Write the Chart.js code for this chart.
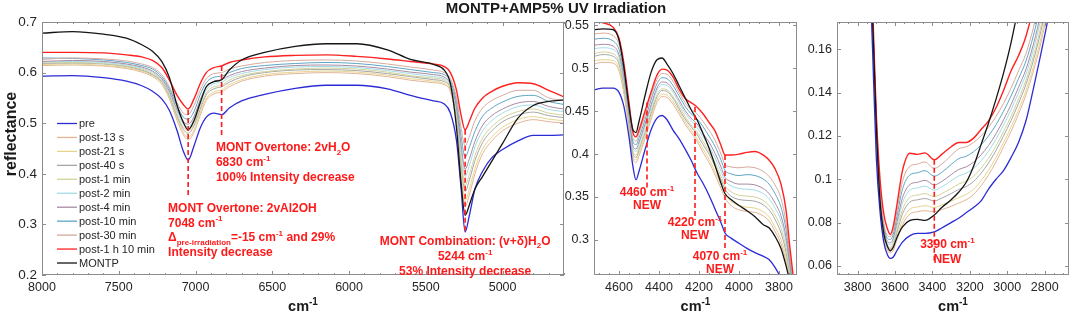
<!DOCTYPE html>
<html lang="en">
<head>
<meta charset="UTF-8">
<title>MONTP+AMP5% UV Irradiation</title>
<script src="https://cdn.jsdelivr.net/npm/chart.js@4.4.1/dist/chart.umd.min.js"></script>
<style>
  html, body { margin: 0; padding: 0; background: #fff; }
  .stage { position: relative; width: 1072px; height: 316px; overflow: hidden; }
  .stage canvas { position: absolute; left: 0; top: 0; }
</style>
</head>
<body>
<div class="stage">
  <canvas id="panelA" width="1072" height="316"></canvas>
  <canvas id="panelB" width="1072" height="316"></canvas>
  <canvas id="panelC" width="1072" height="316"></canvas>
</div>
<script>
// ---- series names (legend order) ----
const seriesNames = ['pre', 'post-13 s', 'post-21 s', 'post-40 s', 'post-1 min', 'post-2 min',
  'post-4 min', 'post-10 min', 'post-30 min', 'post-1 h 10 min', 'MONTP'];

// ---- tick labels ----
const xTicksA = [8000, 7500, 7000, 6500, 6000, 5500, 5000];
const yTicksA = [0.2, 0.3, 0.4, 0.5, 0.6, 0.7];
const xTicksB = [4600, 4400, 4200, 4000, 3800];
const yTicksB = [0.3, 0.35, 0.4, 0.45, 0.5, 0.55];
const xTicksC = [3800, 3600, 3400, 3200, 3000, 2800];
const yTicksC = [0.06, 0.08, 0.1, 0.12, 0.14, 0.16];

// ---- panel A: 8000-4600 cm-1 ----
const wnA = [8000, 7800, 7600, 7450, 7350, 7280, 7220, 7170, 7120, 7080, 7048, 7010, 6970, 6930, 6880, 6830, 6780, 6700, 6550, 6350,
  6150, 5950, 5750, 5600, 5450, 5380, 5340, 5300, 5270, 5244, 5215, 5180, 5130, 5070, 5000, 4900, 4800, 4700, 4600];
const preA = [.593, .594, .590, .583, .574, .563, .548, .525, .485, .445, .427, .455, .490, .512, .520, .517, .530, .544, .557, .569,
  .575, .575, .568, .555, .544, .538, .520, .465, .370, .285, .320, .370, .405, .432, .448, .465, .476, .476, .477];
const s13A = [.614, .615, .613, .608, .601, .592, .577, .548, .505, .478, .467, .482, .515, .545, .558, .562, .572, .583, .593, .598,
  .600, .598, .592, .585, .580, .576, .562, .500, .400, .335, .360, .400, .440, .465, .485, .500, .507, .503, .500];
const s21A = [.616, .617, .614, .610, .603, .594, .579, .550, .509, .482, .472, .487, .520, .549, .562, .566, .576, .586, .596, .601,
  .603, .601, .595, .588, .583, .578, .565, .505, .409, .347, .372, .410, .449, .473, .492, .507, .513, .508, .505];
const s40A = [.618, .619, .617, .612, .605, .596, .582, .554, .514, .488, .480, .495, .527, .556, .568, .572, .581, .591, .600, .605,
  .606, .604, .598, .592, .586, .582, .569, .512, .422, .365, .389, .426, .462, .485, .503, .516, .522, .515, .511];
const m1A = [.619, .620, .618, .613, .607, .598, .584, .556, .517, .493, .485, .500, .532, .560, .572, .575, .585, .594, .602, .607,
  .609, .607, .601, .594, .589, .585, .571, .518, .432, .377, .400, .436, .471, .493, .510, .523, .528, .520, .516];
const m2A = [.621, .622, .620, .615, .609, .601, .586, .560, .522, .499, .492, .508, .540, .566, .578, .581, .590, .598, .606, .611,
  .612, .610, .604, .598, .592, .588, .575, .525, .445, .395, .418, .453, .485, .505, .520, .533, .536, .527, .523];
const m4A = [.622, .624, .622, .617, .611, .603, .588, .563, .527, .504, .498, .513, .546, .571, .583, .586, .594, .602, .609, .614,
  .615, .613, .607, .601, .596, .591, .578, .531, .456, .409, .431, .464, .496, .515, .528, .540, .543, .533, .528];
const m10A = [.629, .628, .625, .620, .614, .607, .592, .568, .534, .512, .508, .523, .556, .580, .591, .593, .600, .608, .614, .618,
  .620, .618, .612, .606, .600, .596, .583, .541, .474, .433, .454, .484, .514, .530, .542, .553, .555, .543, .537];
const m30A = [.626, .629, .627, .623, .617, .610, .596, .572, .540, .520, .517, .535, .565, .588, .598, .600, .607, .613, .620, .624,
  .625, .623, .617, .611, .605, .600, .588, .550, .490, .455, .475, .505, .530, .545, .555, .565, .565, .550, .545];
const h1A = [.640, .640, .639, .635, .631, .624, .610, .585, .555, .537, .528, .548, .578, .600, .610, .613, .620, .625, .631, .634,
  .635, .632, .627, .622, .617, .612, .600, .565, .515, .487, .505, .530, .550, .563, .573, .580, .578, .565, .552];
const montpA = [.678, .681, .676, .668, .655, .642, .622, .590, .535, .502, .487, .505, .540, .572, .582, .586, .605, .625, .640, .652,
  .657, .657, .645, .626, .616, .605, .578, .490, .380, .318, .340, .370, .395, .425, .460, .510, .535, .543, .546];

// ---- panel B: 4725-3710 cm-1 ----
const wnB = [4725, 4680, 4630, 4600, 4575, 4550, 4530, 4515, 4500, 4470, 4440, 4410, 4385, 4360, 4330, 4300, 4270, 4240, 4210, 4180,
  4150, 4120, 4090, 4070, 4040, 4000, 3960, 3920, 3880, 3850, 3820, 3790, 3765, 3745, 3725, 3710];
const preB = [.475, .477, .477, .472, .455, .420, .385, .370, .380, .405, .428, .442, .445, .440, .428, .418, .406, .393, .378, .366,
  .352, .336, .320, .308, .302, .296, .290, .285, .281, .277, .268, .255, .240, .225, .210, .200];
const s13B = [.505, .507, .506, .497, .470, .430, .395, .390, .398, .418, .440, .460, .467, .466, .458, .447, .435, .425, .415, .402,
  .390, .376, .360, .349, .340, .335, .333, .332, .328, .322, .310, .295, .275, .250, .220, .200];
const s21B = [.509, .510, .509, .500, .473, .433, .397, .393, .401, .421, .443, .463, .470, .469, .461, .450, .438, .428, .418, .406,
  .394, .380, .364, .353, .345, .340, .338, .337, .333, .327, .315, .300, .280, .253, .223, .202];
const s40B = [.514, .516, .514, .505, .478, .436, .401, .396, .405, .425, .447, .467, .474, .473, .465, .453, .441, .432, .423, .411,
  .400, .386, .370, .359, .351, .347, .346, .345, .341, .335, .324, .308, .286, .258, .226, .205];
const m1B = [.517, .519, .517, .508, .481, .439, .403, .399, .407, .427, .450, .469, .476, .475, .467, .456, .444, .434, .426, .415,
  .403, .390, .374, .363, .356, .352, .351, .350, .346, .340, .329, .314, .291, .261, .229, .207];
const m2B = [.523, .524, .522, .513, .485, .443, .407, .403, .411, .432, .454, .474, .481, .480, .472, .460, .448, .439, .431, .420,
  .409, .396, .380, .369, .363, .360, .359, .358, .354, .348, .337, .322, .298, .265, .233, .210];
const m4B = [.527, .528, .526, .516, .489, .446, .409, .406, .414, .435, .457, .477, .484, .483, .475, .463, .451, .442, .435, .424,
  .414, .401, .385, .373, .368, .365, .365, .364, .360, .354, .343, .328, .303, .269, .236, .212];
const m10B = [.534, .535, .532, .522, .495, .451, .414, .411, .419, .440, .463, .482, .489, .488, .480, .468, .456, .447, .441, .432,
  .421, .409, .393, .381, .377, .375, .376, .375, .371, .365, .354, .338, .312, .275, .241, .216];
const m30B = [.540, .541, .538, .528, .500, .455, .418, .415, .424, .445, .468, .487, .494, .493, .485, .472, .460, .452, .447, .438,
  .428, .416, .400, .388, .385, .384, .385, .384, .380, .374, .364, .348, .320, .280, .245, .220];
const h1B = [.555, .553, .548, .535, .505, .460, .425, .420, .428, .450, .472, .492, .499, .498, .490, .476, .465, .460, .455, .447,
  .437, .427, .410, .399, .399, .400, .402, .403, .399, .393, .383, .365, .335, .290, .250, .220];
const montpB = [.545, .546, .545, .533, .500, .455, .428, .425, .438, .468, .495, .510, .512, .505, .494, .480, .466, .452, .440, .424,
  .407, .387, .366, .354, .347, .340, .334, .327, .318, .314, .304, .290, .270, .250, .225, .200];

// ---- panel C: 3910-2670 cm-1 ----
const wnC = [3740, 3720, 3700, 3680, 3660, 3640, 3625, 3610, 3590, 3560, 3520, 3480, 3440, 3390, 3350, 3300, 3260, 3220, 3180, 3140,
  3100, 3060, 3020, 2980, 2940, 2900, 2860, 2820, 2780, 2740];
const preC = [.21, .16, .11, .085, .071, .065, .0635, .064, .067, .071, .074, .075, .075, .0757, .0775, .08, .082, .0845, .087, .09,
  .0955, .1, .104, .11, .117, .127, .142, .158, .175, .195];
const s13C = [.21, .17, .12, .088, .073, .067, .066, .067, .072, .079, .084, .085, .0855, .085, .086, .0875, .089, .0905, .093, .097,
  .102, .108, .115, .122, .13, .139, .15, .163, .18, .2];
const s21C = [.21, .1705, .121, .0887, .0737, .0677, .0668, .0679, .0733, .081, .0862, .0872, .0878, .087, .0881, .0899, .0915, .093, .0954, .0993,
  .1042, .1101, .117, .124, .132, .1409, .152, .1652, .182, .202];
const s40C = [.21, .171, .1225, .0898, .0748, .0688, .0679, .0693, .0753, .084, .0895, .0905, .0911, .09, .0913, .0934, .0953, .0966, .099, .1028,
  .1075, .1133, .12, .127, .135, .1438, .155, .1685, .185, .205];
const m1C = [.21, .172, .1235, .0905, .0755, .0695, .0686, .0702, .0766, .086, .0917, .0927, .0934, .092, .0934, .0957, .0978, .0991, .1014, .1051,
  .1097, .1154, .122, .129, .137, .1457, .157, .1707, .187, .207];
const m2C = [.21, .1725, .125, .0915, .0765, .0705, .0698, .0715, .0785, .089, .095, .096, .0968, .095, .0965, .0993, .1015, .1028, .105, .1085,
  .113, .1185, .125, .132, .14, .1485, .16, .174, .19, .21];
const m4C = [.21, .173, .126, .0923, .0773, .0713, .0707, .0726, .0801, .0914, .0976, .0986, .0995, .0974, .099, .1021, .1045, .1057, .1079, .1113,
  .1156, .121, .1274, .1344, .1424, .1508, .1624, .1766, .1924, .2124];
const m10C = [.21, .174, .128, .0937, .0787, .0727, .0722, .0744, .0827, .0954, .102, .103, .104, .1014, .1032, .1068, .1095, .1106, .1127, .1159,
  .12, .1252, .1314, .1384, .1464, .1546, .1664, .181, .1964, .2164];
const m30C = [.21, .175, .13, .095, .08, .074, .0735, .076, .085, .099, .106, .107, .108, .105, .107, .111, .114, .115, .117, .12,
  .124, .129, .135, .142, .15, .158, .17, .185, .2, .22];
const h1C = [.21, .18, .13, .10, .084, .077, .0745, .078, .088, .104, .112, .1115, .1122, .109, .1115, .115, .117, .117, .119, .123,
  .127, .133, .141, .15, .157, .166, .18, .2, .22, .24];
const montpC = [.21, .175, .125, .09, .075, .069, .067, .0685, .073, .078, .081, .0815, .081, .0835, .087, .0905, .094, .0985, .106, .116,
  .126, .137, .149, .163, .18, .2, .22, .24, .26, .28];

// ---- styles ----
const seriesColors = ['#2b2bd6', '#e2b496', '#e6d48e', '#a6a6a6', '#d2d29a', '#a4dce6',
  '#a88aa4', '#5ea6c4', '#d6aa9e', '#ff2020', '#151515'];
const seriesWidths = [1.3, 1, 1, 1, 1, 1, 1, 1, 1, 1.4, 1.3];
const seriesOrder = [2, 10, 9, 8, 7, 6, 5, 4, 3, 1, 0];
const FONT = '"Liberation Sans", Arial, Helvetica, sans-serif';
const RED = '#ff1a1a';
Chart.defaults.font.family = FONT;

function sup(t) { return [t, 'sup']; }
function sub(t) { return [t, 'sub']; }

// annotations, titles and tick details per panel
const deco = {
  panelA: {
    xMinor: 100, xMajor: 500,
    marks: [[6830, 0.613, 0.475], [7048, 0.526, 0.352], [5244, 0.487, 0.285]],
    notes: [
      { x: 6867, y: 0.445, align: 'left', lh: 15, lines: [
        [['MONT Overtone: 2vH'], sub('2'), ['O']],
        [['6830 cm'], sup('-1')],
        [['100% Intensity decrease']]
      ] },
      { x: 7179, y: 0.3245, align: 'left', lh: 14.5, lines: [
        [['MONT Overtone: 2vAl2OH']],
        [['7048 cm'], sup('-1')],
        [['\u0394'], sub('pre-irradiation'), ['=-15 cm'], sup('-1'), [' and 29%']],
        [['Intensity decrease']]
      ] },
      { x: 5244, y: 0.260, align: 'center', lh: 15, lines: [
        [['MONT Combination: (v+\u03b4)H'], sub('2'), ['O']],
        [['5244 cm'], sup('-1')],
        [['53% Intensity decrease']]
      ] }
    ],
    legend: true,
    yTitle: 'reflectance',
    title: 'MONTP+AMP5% UV Irradiation'
  },
  panelB: {
    xMinor: 50, xMajor: 200,
    marks: [[4460, 0.46, 0.358], [4220, 0.455, 0.323], [4070, 0.399, 0.288]],
    notes: [
      { x: 4460, y: 0.3513, align: 'center', lh: 13.5, lines: [[['4460 cm'], sup('-1')], [['NEW']]] },
      { x: 4220, y: 0.3163, align: 'center', lh: 13.5, lines: [[['4220 cm'], sup('-1')], [['NEW']]] },
      { x: 4095, y: 0.277, align: 'center', lh: 13.5, lines: [[['4070 cm'], sup('-1')], [['NEW']]] }
    ]
  },
  panelC: {
    xMinor: 50, xMajor: 200,
    marks: [[3390, 0.109, 0.0615]],
    notes: [
      { x: 3320, y: 0.0683, align: 'center', lh: 15, lines: [[['3390 cm'], sup('-1')], [['NEW']]] }
    ]
  }
};

function drawRich(ctx, parts, x, y, align, size) {
  const small = Math.round(size * 0.7);
  const fontFor = m => 'bold ' + (m ? small : size) + 'px ' + FONT;
  let w = 0;
  parts.forEach(p => { ctx.font = fontFor(p[1]); w += ctx.measureText(p[0]).width; });
  let cx = align === 'center' ? x - w / 2 : x;
  parts.forEach(p => {
    ctx.font = fontFor(p[1]);
    const dy = p[1] === 'sub' ? size * 0.3 : (p[1] === 'sup' ? -size * 0.42 : 0);
    ctx.fillText(p[0], cx, y + dy);
    cx += ctx.measureText(p[0]).width;
  });
}

const framePlugin = {
  id: 'frame',
  afterDatasetsDraw(chart) {
    const d = deco[chart.canvas.id];
    const ctx = chart.ctx, a = chart.chartArea;
    const sx = chart.scales.x, sy = chart.scales.y;
    ctx.save();

    // box and inward ticks
    ctx.strokeStyle = '#8c8c8c';
    ctx.lineWidth = 1;
    ctx.beginPath();
    const start = Math.ceil(sx.min / d.xMinor) * d.xMinor;
    for (let v = start; v <= sx.max; v += d.xMinor) {
      const px = Math.round(sx.getPixelForValue(v)) + 0.5;
      const len = v % d.xMajor === 0 ? 4 : 2;
      ctx.moveTo(px, a.bottom); ctx.lineTo(px, a.bottom - len);
      ctx.moveTo(px, a.top); ctx.lineTo(px, a.top + len);
    }
    sy.ticks.forEach(t => {
      const py = Math.round(sy.getPixelForValue(t.value)) + 0.5;
      ctx.moveTo(a.left, py); ctx.lineTo(a.left + 4, py);
      ctx.moveTo(a.right, py); ctx.lineTo(a.right - 4, py);
    });
    ctx.stroke();
    ctx.strokeRect(Math.round(a.left) + 0.5, Math.round(a.top) + 0.5, Math.round(a.width) - 1, Math.round(a.height) - 1);

    // dashed markers
    ctx.strokeStyle = RED;
    ctx.lineWidth = 1.6;
    ctx.setLineDash([5, 3]);
    d.marks.forEach(m => {
      const px = sx.getPixelForValue(m[0]);
      ctx.beginPath();
      ctx.moveTo(px, sy.getPixelForValue(m[1]));
      ctx.lineTo(px, sy.getPixelForValue(m[2]));
      ctx.stroke();
    });
    ctx.setLineDash([]);

    // red notes
    ctx.fillStyle = RED;
    ctx.textBaseline = 'alphabetic';
    ctx.textAlign = 'left';
    d.notes.forEach(n => {
      const px = sx.getPixelForValue(n.x);
      const py = sy.getPixelForValue(n.y);
      n.lines.forEach((ln, i) => drawRich(ctx, ln.map(p => [p[0], p[1] || '']), px, py + i * n.lh, n.align, 12));
    });

    // x axis title
    ctx.fillStyle = '#1a1a1a';
    drawRich(ctx, [['cm', ''], ['-1', 'sup']], (a.left + a.right) / 2, 311, 'center', 14.5);

    if (d.yTitle) {
      ctx.save();
      ctx.translate(12, 134);
      ctx.rotate(-Math.PI / 2);
      ctx.font = 'bold 16px ' + FONT;
      ctx.textAlign = 'center';
      ctx.textBaseline = 'middle';
      ctx.fillText(d.yTitle, 0, 0);
      ctx.restore();
    }
    if (d.title) {
      ctx.font = 'bold 15px ' + FONT;
      ctx.textAlign = 'center';
      ctx.textBaseline = 'middle';
      ctx.fillText(d.title, 556, 8.5);
    }
    if (d.legend) {
      ctx.font = '11px ' + FONT;
      ctx.textAlign = 'left';
      ctx.textBaseline = 'middle';
      chart.data.datasets.forEach((ds, i) => {
        const yy = a.top + 101.5 + i * 13.95;
        ctx.strokeStyle = ds.borderColor;
        ctx.lineWidth = 1.3;
        ctx.beginPath();
        ctx.moveTo(a.left + 15, yy);
        ctx.lineTo(a.left + 35, yy);
        ctx.stroke();
        ctx.fillStyle = '#262626';
        ctx.fillText(ds.label, a.left + 37, yy + 0.5);
      });
    }
    ctx.restore();
  }
};

function makeSets(wn, columns) {
  return columns.map((vals, i) => ({
    label: seriesNames[i],
    data: wn.map((x, j) => ({ x: x, y: vals[j] })),
    borderColor: seriesColors[i],
    borderWidth: seriesWidths[i],
    order: seriesOrder[i],
    pointRadius: 0,
    fill: false,
    cubicInterpolationMode: 'monotone'
  }));
}

function fmt(v) { return String(+v.toFixed(3)); }

function makeChart(id, wn, columns, xr, xTicks, yr, yTicks, leftW, rightPad, yFont) {
  return new Chart(document.getElementById(id), {
    type: 'line',
    data: { datasets: makeSets(wn, columns) },
    options: {
      responsive: false,
      animation: false,
      events: [],
      layout: { padding: { left: 0, top: 22, right: rightPad, bottom: 0 } },
      plugins: { legend: { display: false }, tooltip: { enabled: false } },
      scales: {
        x: {
          type: 'linear', reverse: true, min: xr[0], max: xr[1],
          grid: { display: false, drawTicks: false },
          border: { display: false },
          afterBuildTicks: s => { s.ticks = xTicks.map(v => ({ value: v })); },
          ticks: {
            autoSkip: false, maxRotation: 0,
            padding: 5, color: '#262626', font: { size: 12.5 },
            callback: v => String(v)
          },
          afterFit: s => { s.height = 41; }
        },
        y: {
          type: 'linear', min: yr[0], max: yr[1],
          grid: { display: false, drawTicks: false },
          border: { display: false },
          afterBuildTicks: s => { s.ticks = yTicks.map(v => ({ value: v })); },
          ticks: {
            autoSkip: false,
            padding: 5, color: '#262626', font: { size: yFont },
            callback: v => fmt(v)
          },
          afterFit: s => { s.width = leftW; }
        }
      }
    },
    plugins: [framePlugin]
  });
}

makeChart('panelA', wnA, [preA, s13A, s21A, s40A, m1A, m2A, m4A, m10A, m30A, h1A, montpA],
  [4600, 8000], xTicksA, [0.2, 0.7], yTicksA, 42, 1072 - 564, 13.5);
makeChart('panelB', wnB, [preB, s13B, s21B, s40B, m1B, m2B, m4B, m10B, m30B, h1B, montpB],
  [3710, 4725], xTicksB, [0.259, 0.554], yTicksB, 594, 1072 - 797, 12.5);
makeChart('panelC', wnC, [preC, s13C, s21C, s40C, m1C, m2C, m4C, m10C, m30C, h1C, montpC],
  [2670, 3910], xTicksC, [0.0558, 0.1726], yTicksC, 837, 1072 - 1069, 12.5);
</script>
</body>
</html>
